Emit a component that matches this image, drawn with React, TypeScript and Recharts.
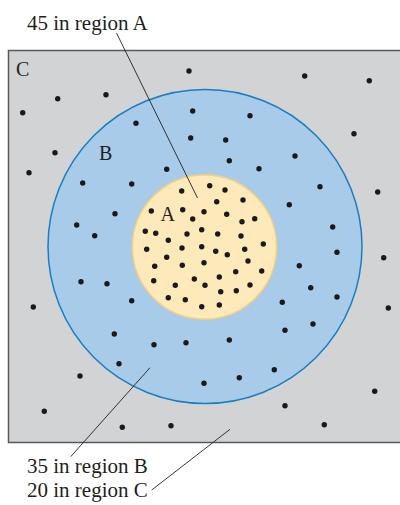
import React from 'react';
import {
  ScatterChart,
  Scatter,
  XAxis,
  YAxis,
  ReferenceArea,
  ReferenceDot
} from 'recharts';

// dot positions (x right, y down)
const regionA = [
  [181.7, 191], [209.7, 185.7], [225, 190], [216.7, 201.7], [243, 200],
  [151.3, 211], [182.7, 209.7], [204, 211.7], [192.7, 219], [226.7, 214.3],
  [242, 221.7], [254.7, 218.7], [145.3, 231.3], [155.7, 233.3], [168.3, 240.3],
  [187, 234], [201.7, 229.7], [217.7, 234], [241, 236], [263.3, 244],
  [146.7, 249.3], [182, 248], [201.7, 246.7], [215.7, 251.3], [227.3, 254.7],
  [244.7, 249.3], [166.7, 257.3], [154.7, 266.3], [182.3, 265.3], [204, 262.7],
  [248, 261], [153.7, 280.7], [175.3, 285.3], [194.3, 279], [219.3, 277],
  [235.7, 271.7], [261.7, 271], [205, 285.3], [220.7, 291.7], [236.3, 290.7],
  [250, 285], [168.3, 297.7], [185.3, 299.7], [201.7, 306.7], [219.3, 305]
];

const regionB = [
  [192.7, 111], [136, 123.3], [190.7, 138], [166.7, 169.3], [82.7, 183],
  [131.7, 184], [115, 213.7], [76.7, 225], [94.7, 235.7], [250, 115.7],
  [225.7, 140], [229.3, 160.7], [295, 156], [259, 168.7], [320, 186.7],
  [289.3, 204.7], [332.7, 227], [81, 281.7], [107, 283.7], [131.7, 300.7],
  [114.3, 334], [154, 344.7], [186, 342.7], [119, 363.7], [337, 252.3],
  [299.3, 265.7], [310.7, 287.7], [337, 297], [282.3, 302.3], [285, 330.3],
  [313, 324], [229.3, 340], [274.3, 369.7], [204, 383.3], [239.3, 377.7]
];

const regionC = [
  [189, 71], [57.7, 98.7], [106, 94.7], [22.7, 112.7], [55, 152.7],
  [29, 172.7], [304.7, 76], [369.3, 80.7], [354, 133.7], [377.7, 192],
  [33.3, 307], [80, 376], [44.3, 411.3], [122.3, 427.3], [171, 425.7],
  [383.7, 257.7], [388.3, 308], [374.7, 391.3], [285, 405.7], [324.3, 424.7]
];

const captions = [
  { x: 27, y: 29.5, text: '45 in region A' },
  { x: 27, y: 473, text: '35 in region B' },
  { x: 27, y: 496.5, text: '20 in region C' }
];

const regionLetters = [
  { x: 16, y: 76, text: 'C' },
  { x: 99, y: 159.5, text: 'B' },
  { x: 160.5, y: 221, text: 'A' }
];

const leaders = [
  [[116.5, 33], [197.5, 198]],
  [[70.7, 456.7], [150, 367.7]],
  [[151.7, 490], [230, 429.3]]
];

const toPoints = (list: number[][]) => list.map(([x, y]) => ({ x, y }));

const Dot = (props: any) => (
  <circle cx={props.cx} cy={props.cy} r={2.7} fill="#1b1a1a" />
);

const NoMark = () => <g />;

const textShape = (size: number) => (props: any) => (
  <text
    x={props.cx}
    y={props.cy}
    fontFamily="'Liberation Serif', 'Times New Roman', serif"
    fontSize={size}
    fill="#231f20"
  >
    {props.payload.text}
  </text>
);

export default function App() {
  return (
    <div style={{ position: 'absolute', left: 0, top: 0 }}>
      <ScatterChart
        width={400}
        height={505}
        margin={{ top: 0, right: 0, bottom: 0, left: 0 }}
      >
        <XAxis type="number" dataKey="x" domain={[0, 400]} hide />
        <YAxis type="number" dataKey="y" domain={[0, 505]} reversed hide />

        {/* region C */}
        <ReferenceArea
          x1={8.5}
          x2={406}
          y1={50.5}
          y2={442.5}
          ifOverflow="visible"
          fill="#d1d3d4"
          fillOpacity={1}
          stroke="#58595b"
          strokeWidth={1.5}
        />
        {/* region B */}
        <ReferenceDot
          x={205}
          y={246.5}
          r={157}
          fill="#a9cbea"
          stroke="#1a7dc4"
          strokeWidth={1.5}
        />
        {/* region A */}
        <ReferenceDot
          x={204.5}
          y={247}
          r={72}
          fill="#fee9bb"
          stroke="#f6d27d"
          strokeWidth={1.5}
        />

        <Scatter data={toPoints(regionA)} shape={Dot} isAnimationActive={false} />
        <Scatter data={toPoints(regionB)} shape={Dot} isAnimationActive={false} />
        <Scatter data={toPoints(regionC)} shape={Dot} isAnimationActive={false} />

        {/* leader lines from the captions */}
        {leaders.map((seg, i) => (
          <Scatter
            key={'leader' + i}
            data={toPoints(seg)}
            line={{ stroke: '#231f20', strokeWidth: 0.9 }}
            shape={NoMark}
            isAnimationActive={false}
          />
        ))}

        <Scatter data={regionLetters} shape={textShape(20)} isAnimationActive={false} />
        <Scatter data={captions} shape={textShape(21)} isAnimationActive={false} />
      </ScatterChart>
    </div>
  );
}
